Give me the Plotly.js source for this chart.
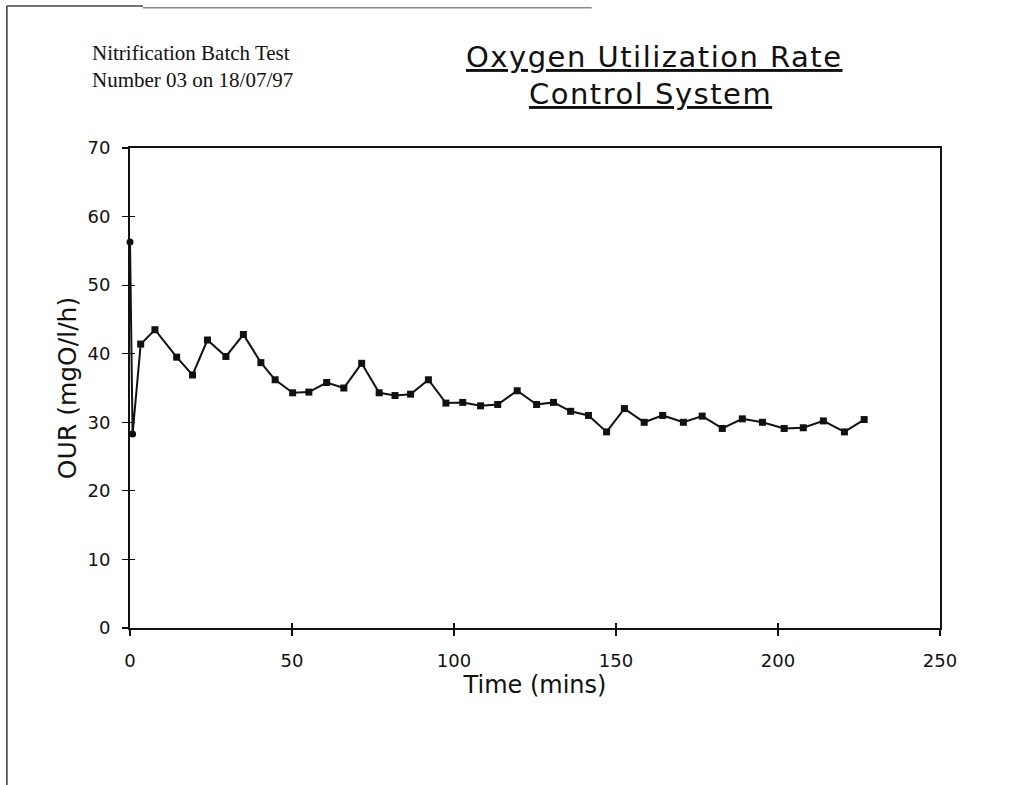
<!DOCTYPE html>
<html>
<head>
<meta charset="utf-8">
<script src="https://cdn.plot.ly/plotly-3.0.1.min.js"></script>
<style>html,body{margin:0;padding:0;background:#fff;}#chart{width:1034px;height:785px;}</style>
</head>
<body>
<div id="chart"></div>
<script>
// Time (mins)
const timeMins = [0, 0.8, 3.3, 7.7, 14.4, 19.3, 23.9, 29.6, 35, 40.4, 44.8, 50.2, 55.2, 60.7, 66, 71.5, 76.9, 81.8, 86.6, 92.1, 97.5, 102.7, 108.2, 113.5, 119.5, 125.5, 130.7, 136, 141.5, 147.1, 152.6, 158.7, 164.4, 170.8, 176.6, 182.8, 189, 195.2, 201.9, 207.8, 214, 220.5, 226.6];
// OUR (mgO/l/h)
const ourValues = [56.3, 28.3, 41.4, 43.5, 39.5, 36.9, 42.0, 39.6, 42.8, 38.7, 36.2, 34.3, 34.4, 35.8, 35.0, 38.6, 34.3, 33.9, 34.1, 36.2, 32.8, 32.9, 32.4, 32.6, 34.6, 32.6, 32.9, 31.6, 31.0, 28.6, 32.0, 30.0, 31.0, 30.0, 30.9, 29.1, 30.5, 30.0, 29.1, 29.2, 30.2, 28.6, 30.4];
const xTicks = [0, 50, 100, 150, 200, 250];
const yTicks = [0, 10, 20, 30, 40, 50, 60, 70];
const titleLine1 = 'Oxygen Utilization Rate';
const titleLine2 = 'Control System';
const noteLines = ['Nitrification Batch Test', 'Number 03 on 18/07/97'];

const sans = 'DejaVu Sans, Verdana, sans-serif';
const symbols = timeMins.map((t, i) => i < 2 ? 'circle' : 'square');

const trace = {
  x: timeMins, y: ourValues, type: 'scatter', mode: 'lines+markers',
  line: {color: '#111', width: 2},
  marker: {symbol: symbols, size: 7, color: '#111'},
  cliponaxis: false, showlegend: false
};
// same series on the overlay axes, invisible, so the inner tick marks get drawn
const tickTrace = {
  x: timeMins, y: ourValues, xaxis: 'x2', yaxis: 'y2', type: 'scatter', mode: 'markers',
  marker: {opacity: 0, size: 1}, hoverinfo: 'skip', showlegend: false
};

const axisCommon = {
  showgrid: false, zeroline: false, showline: true, linecolor: '#111', linewidth: 2, mirror: true,
  ticks: 'outside', ticklen: 6, tickcolor: '#111', tickwidth: 1.2,
  tickfont: {family: sans, size: 18, color: '#111'}
};
const innerTicks = {
  showgrid: false, zeroline: false, showline: false, showticklabels: false,
  ticks: 'inside', ticklen: 5, tickcolor: '#111', tickwidth: 1.2
};

const layout = {
  width: 1034, height: 785,
  paper_bgcolor: '#fff', plot_bgcolor: '#fff',
  margin: {l: 130, r: 94, t: 148, b: 157},
  font: {family: sans, color: '#111'},
  xaxis: Object.assign({}, axisCommon, {
    range: [0, 250], tickvals: xTicks, ticktext: xTicks.map(String),
    ticklabelstandoff: 9,
    title: {text: 'Time (mins)', font: {family: sans, size: 24, color: '#111'}, standoff: 3}
  }),
  yaxis: Object.assign({}, axisCommon, {
    range: [0, 70], tickvals: yTicks, ticktext: yTicks.map(String),
    ticklabelstandoff: 8,
    title: {text: 'OUR (mgO/l/h)', font: {family: sans, size: 25, color: '#111'}, standoff: 4}
  }),
  xaxis2: Object.assign({}, innerTicks, {overlaying: 'x', anchor: 'y2', side: 'bottom', range: [0, 250], tickvals: xTicks}),
  yaxis2: Object.assign({}, innerTicks, {overlaying: 'y', anchor: 'x2', side: 'left', range: [0, 70], tickvals: yTicks}),
  annotations: [
    {xref: 'paper', yref: 'paper', x: 0.647, y: 1.19, xanchor: 'center', yanchor: 'middle',
     text: '<u><span style="letter-spacing:1.5px">' + titleLine1 + '</span></u>', showarrow: false,
     font: {family: sans, size: 29, color: '#111'}},
    {xref: 'paper', yref: 'paper', x: 0.642, y: 1.112, xanchor: 'center', yanchor: 'middle',
     text: '<u><span style="letter-spacing:1.5px">' + titleLine2 + '</span></u>', showarrow: false,
     font: {family: sans, size: 29, color: '#111'}},
    {xref: 'paper', yref: 'paper', x: -0.0494, y: 1.169, xanchor: 'left', yanchor: 'middle', align: 'left',
     text: noteLines.join('<br>'), showarrow: false,
     font: {family: 'Liberation Serif, Times New Roman, serif', size: 21, color: '#111'}}
  ],
  shapes: [
    {type: 'line', xref: 'paper', yref: 'paper', x0: -0.152, x1: -0.152, y0: 1.296, y1: -0.33, line: {color: '#333', width: 1.5}},
    {type: 'line', xref: 'paper', yref: 'paper', x0: -0.152, x1: 0.016, y0: 1.296, y1: 1.296, line: {color: '#444', width: 1.5}},
    {type: 'line', xref: 'paper', yref: 'paper', x0: 0.016, x1: 0.57, y0: 1.292, y1: 1.292, line: {color: '#888', width: 1.5}}
  ]
};

Plotly.newPlot('chart', [tickTrace, trace], layout, {displayModeBar: false, staticPlot: true});
</script>
</body>
</html>
